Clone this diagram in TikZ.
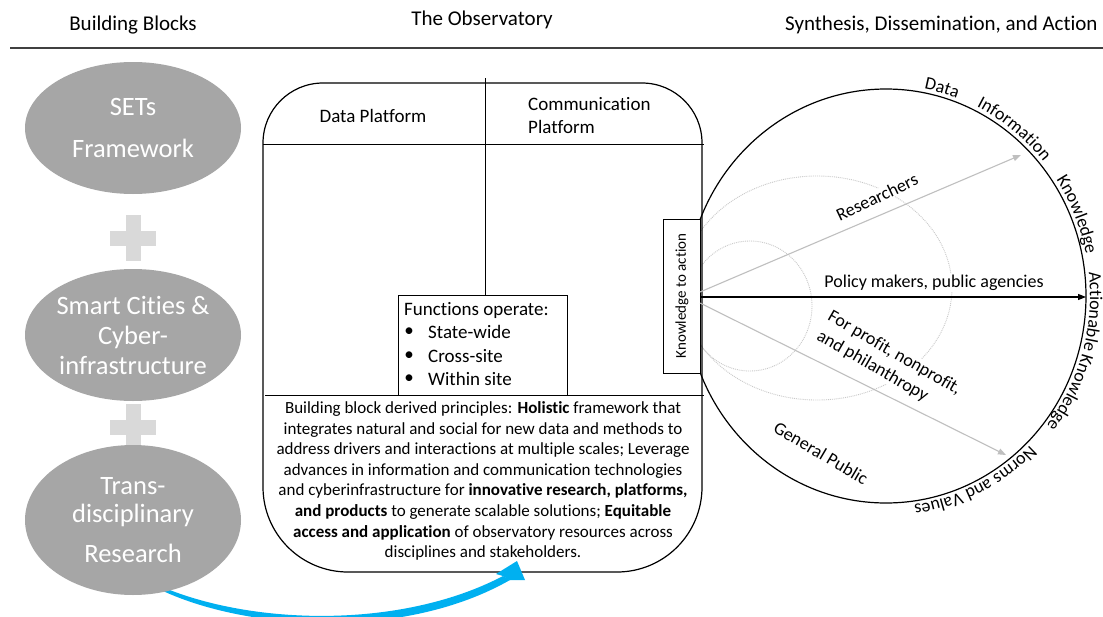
\documentclass[tikz,border=0pt]{standalone}
\usepackage{fontspec}
\setmainfont{Carlito}[Ligatures=NoCommon]
\usetikzlibrary{shapes.geometric,arrows.meta,decorations.text}
\definecolor{ellgray}{HTML}{A6A6A6}
\definecolor{plusgray}{HTML}{D9D9D9}
\definecolor{hdrline}{HTML}{404040}
\definecolor{lightarrow}{HTML}{BFBFBF}
\definecolor{dotgray}{HTML}{C8C8C8}
\definecolor{arrowblue}{HTML}{00B0F0}
\newcommand\arcfont{\fontsize{18}{20}\selectfont}
\tikzset{
  hdr/.style={inner sep=0pt, font=\fontsize{21}{25}\selectfont},
  ebox/.style={ellipse, fill=ellgray, draw=none, inner sep=0pt},
  etext/.style={text=white, align=center, inner sep=0pt, font=\fontsize{26.5}{31}\selectfont},
  boxline/.style={draw=black, line width=1.2pt},
  thinline/.style={draw=black, line width=1pt},
  midtext/.style={inner sep=0pt, font=\fontsize{19}{23}\selectfont},
  bodytext/.style={inner sep=0pt, align=center, font=\fontsize{17}{20.6}\selectfont},
  rlabel/.style={inner sep=1pt, fill=white, font=\fontsize{18}{22}\selectfont},
  dotcirc/.style={draw=dotgray, densely dotted, line width=0.9pt},
  greyarrow/.style={draw=lightarrow, line width=1.1pt, -{Triangle[length=8pt,width=6pt]}},
  blackarrow/.style={draw=black, line width=1.1pt, -{Triangle[length=8pt,width=6pt]}},
  arctext/.style={decorate, decoration={text along path, text align=center}}
}
\begin{document}
\begin{tikzpicture}[x=1pt,y=-1pt]
\useasboundingbox (0,0) rectangle (1103,616);
\fill[white] (0,0) rectangle (1103,616);

% header
\node[hdr] (h1) at (133,25) {Building Blocks};
\node[hdr] (h2) at (482,20) {The Observatory};
\node[hdr, anchor=west] (h3) at (785,25) {Synthesis, Dissemination, and Action};
\coordinate (hl1) at (10,48);
\coordinate (hl2) at (1103,48);
\draw[hdrline, line width=2.2pt] (hl1) -- (hl2);

% building blocks
\node[ebox, minimum width=216pt, minimum height=132pt] (e1) at (133,128) {};
\node[etext] (t1) at (e1) {SETs\\[11pt]Framework};
\node[ebox, minimum width=216pt, minimum height=132pt] (e2) at (133,335) {};
\node[etext] (t2) at (e2) {Smart Cities \&\\[-1pt]Cyber-\\[-1pt]infrastructure};
\fill[plusgray] (110,230.5) rectangle (156,245.5);
\fill[plusgray] (125.5,215) rectangle (140.5,261);
\fill[plusgray] (110,419.5) rectangle (156,434.5);
\fill[plusgray] (125.5,404) rectangle (140.5,450);

% blue curved arrow (shaft behind the third block)
\begin{scope}
\clip (0,0) rectangle (1103,616);
\fill[arrowblue] (160,586) .. controls (250,625) and (400,630) .. (503,576)
  -- (510,580)
  .. controls (405,640) and (250,631) .. (163,591) -- cycle;
\end{scope}

\node[ebox, minimum width=216pt, minimum height=150pt] (e3) at (133,520) {};
\node[etext] (t3) at (e3) {Trans-\\[-3pt]disciplinary\\[9pt]Research};

% right circle
\draw[dotcirc] (750,306) ellipse[x radius=62, y radius=65];
\draw[dotcirc] (817,288) ellipse[x radius=135, y radius=112];
\draw[boxline] (886,296) ellipse[x radius=200, y radius=207];

% observatory box
\draw[boxline] (263,143) -- (263,487) arc[start angle=180, end angle=90, radius=85]
  -- (617,572) arc[start angle=90, end angle=0, radius=85]
  -- (702,143) arc[start angle=0, end angle=-90, radius=60]
  -- (323,83) arc[start angle=-90, end angle=-180, radius=60] -- cycle;
\coordinate (l1a) at (263,144); \coordinate (l1b) at (704,144);
\draw[thinline] (l1a) -- (l1b);
\coordinate (l2a) at (265,395); \coordinate (l2b) at (704,395);
\draw[thinline] (l2a) -- (l2b);
\node[draw=black, line width=1pt, minimum width=169pt, minimum height=100pt, inner sep=0pt] (fn) at (482.5,345) {};
\coordinate (vtop) at (485,78);
\draw[thinline] (vtop) -- (fn.north -| vtop);

% arrowhead of the blue arrow, over the box outline
\fill[arrowblue] (496,574) -- (517,561) -- (525,580) -- (509,580) -- (503,576) -- cycle;

\node[midtext] (dp) at (373,116) {Data Platform};
\node[midtext, anchor=west, align=left] (cp) at (528,115.5) {Communication\\Platform};
\node[midtext, anchor=west] (f0) at (404,310) {Functions operate:};
\node[midtext] (b1) at (409,332) {\textbullet};
\node[midtext] (b2) at (409,356) {\textbullet};
\node[midtext] (b3) at (409,379) {\textbullet};
\node[midtext, anchor=west] (f1) at (428,332) {State-wide};
\node[midtext, anchor=west] (f2) at (428,356) {Cross-site};
\node[midtext, anchor=west] (f3) at (428,379) {Within site};

\node[bodytext] (body) at (483,481) {Building block derived principles: \textbf{Holistic} framework that\\
integrates natural and social for new data and methods to\\
address drivers and interactions at multiple scales; Leverage\\
advances in information and communication technologies\\
and cyberinfrastructure for \textbf{innovative research, platforms,}\\
\textbf{and products} to generate scalable solutions; \textbf{Equitable}\\
\textbf{access and application} of observatory resources across\\
disciplines and stakeholders.};

% knowledge to action
\node[draw=black, fill=white, line width=1pt, minimum width=37pt, minimum height=154pt, inner sep=0pt] (kta) at (681.5,296) {};
\node[rotate=90, inner sep=0pt, font=\fontsize{15}{18}\selectfont] (ktat) at (682,296) {Knowledge to action};

% labels
\node[rlabel, rotate=25.5] (res) at (877,197) {Researchers};
\node[rlabel] (pol) at (934,283) {Policy makers, public agencies};
\node[rlabel, rotate=-30, align=left, font=\fontsize{18}{22}\selectfont] (prof) at (889,363) {For profit, nonprofit,\\and philanthropy};
\node[rlabel, rotate=-30.5] (gp) at (821,453) {General Public};

% arrows
\coordinate (s1) at (700,292);
\coordinate (s2) at (700,297);
\coordinate (s3) at (700,303);
\coordinate (d1) at (1021,155);
\coordinate (d2) at (1086,297);
\coordinate (d3) at (1006,455);
\draw[greyarrow] (s1) -- (d1);
\draw[blackarrow] (s2) -- (d2);
\draw[greyarrow] (s3) -- (d3);

% text around circle
\path[arctext, decoration={text={|\arcfont|Data}}] (886,296) ++(-119.7:204 and 211) arc[start angle=-119.7, end angle=-29.7, x radius=204, y radius=211];
\path[arctext, decoration={text={|\arcfont|Information}}] (886,296) ++(-97:204 and 211) arc[start angle=-97, end angle=-7, x radius=204, y radius=211];
\path[arctext, decoration={text={|\arcfont|Knowledge}}] (886,296) ++(-67.7:204 and 211) arc[start angle=-67.7, end angle=22.3, x radius=204, y radius=211];
\path[arctext, decoration={text={|\arcfont|Actionable Knowledge}}] (886,296) ++(-34:204 and 211) arc[start angle=-34, end angle=66, x radius=204, y radius=211];
\path[arctext, decoration={text={|\arcfont|Norms and Values}}] (886,296) ++(14:204 and 211) arc[start angle=14, end angle=114, x radius=204, y radius=211];
\end{tikzpicture}
\end{document}
